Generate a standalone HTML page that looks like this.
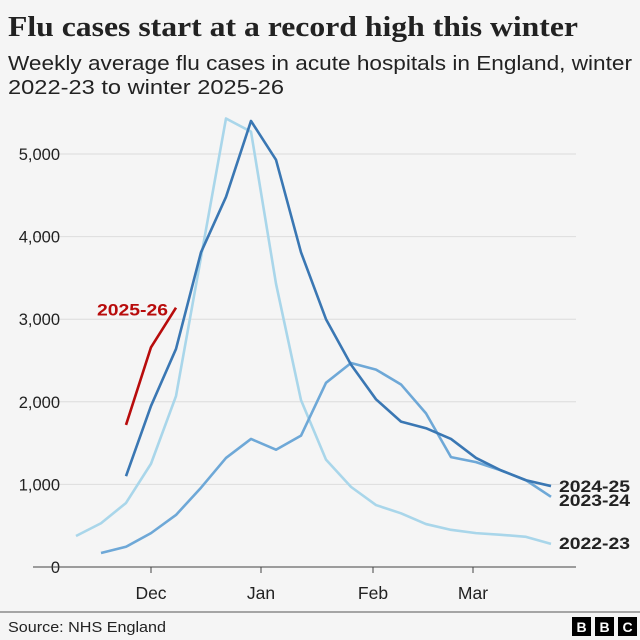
<!DOCTYPE html>
<html><head><meta charset="utf-8"><style>
body{margin:0;background:#f5f5f5;width:640px;height:640px;overflow:hidden;font-family:"Liberation Sans",sans-serif}
</style></head><body>
<svg width="640" height="640" style="position:absolute;left:0;top:0">
<text x="8" y="36" font-family="Liberation Serif,serif" font-weight="bold" font-size="29" fill="#222" textLength="570" lengthAdjust="spacingAndGlyphs">Flu cases start at a record high this winter</text>
<text x="8" y="70" font-size="20" fill="#222" textLength="624" lengthAdjust="spacingAndGlyphs">Weekly average flu cases in acute hospitals in England, winter</text>
<text x="8" y="94" font-size="20" fill="#222" textLength="276" lengthAdjust="spacingAndGlyphs">2022-23 to winter 2025-26</text>
<g id="grid"></g><g id="ticks"></g><g id="lines"></g>
<line x1="0" y1="612" x2="640" y2="612" stroke="#555" stroke-width="1"/>
<text x="8" y="632" font-size="15" fill="#222" textLength="158" lengthAdjust="spacingAndGlyphs">Source: NHS England</text>
<g font-weight="bold" font-size="14" fill="#fff" text-anchor="middle">
<rect x="572" y="617" width="19" height="19" fill="#000"/><text x="581.5" y="632">B</text>
<rect x="595" y="617" width="19" height="19" fill="#000"/><text x="604.5" y="632">B</text>
<rect x="618" y="617" width="19" height="19" fill="#000"/><text x="627.5" y="632">C</text>
</g>
</svg>
<script>
const yTicks=[0,1000,2000,3000,4000,5000];
const monthLabels=["Dec","Jan","Feb","Mar"];
const monthPos=[3,7.4,11.88,15.88];
const s2223=[375,530,775,1250,2070,3750,5430,5270,3430,2020,1300,970,750,650,520,450,410,390,365,280];
const s2324=[null,170,245,410,630,960,1320,1550,1420,1590,2230,2470,2390,2210,1860,1330,1270,1170,1050,850];
const s2425=[null,null,1100,1950,2640,3810,4480,5400,4930,3810,3000,2450,2030,1760,1680,1550,1320,1170,1050,980];
const s2526=[null,null,1720,2660,3140];
const NS="http://www.w3.org/2000/svg";
const X=i=>76+25*i, Y=v=>567-v*0.0826;
function mk(p,t,a){const e=document.createElementNS(NS,t);for(const k in a)e.setAttribute(k,a[k]);document.getElementById(p).appendChild(e);return e;}
yTicks.forEach(v=>{
 if(v>0){const g=mk('grid','line',{x1:33,x2:576,y1:Y(v),y2:Y(v),stroke:'#dcdcdc','stroke-width':1});
 
 }
 const t=mk('grid','text',{x:60,y:Y(v)+6,'text-anchor':'end','font-size':16.5,fill:'#222'});t.textContent=v.toLocaleString('en-US');
 
 
});
const ax=mk('ticks','line',{x1:33,x2:576,y1:567,y2:567,stroke:'#444','stroke-width':1});


monthLabels.forEach((m,i)=>{const x=X(monthPos[i]);
 const l=mk('ticks','line',{x1:x,x2:x,y1:567,y2:573,stroke:'#444'});
 
 
 const t=mk('ticks','text',{x:x,y:599,'text-anchor':'middle','font-size':17.5,fill:'#222'});t.textContent=m;
 
 
});
function series(d,col,name){let p='';d.forEach((v,i)=>{if(v!=null)p+=(p?'L':'M')+X(i)+','+Y(v);});
 const e=mk('lines','path',{d:p,fill:'none',stroke:col,'stroke-width':2.6,'stroke-linejoin':'round'});
 
 }
series(s2223,'#a9d6ea','line-2022-23');
series(s2324,'#6ea8d7','line-2023-24');
series(s2425,'#3a77b3','line-2024-25');
series(s2526,'#b80c0c','line-2025-26');
function lab(txt,x,y,col,anchor,name){const t=mk('lines','text',{x:x,y:y,'font-size':17,'font-weight':'bold',fill:col,'text-anchor':anchor,textLength:71,lengthAdjust:'spacingAndGlyphs'});t.textContent=txt;
 
 }
lab('2024-25',559,Y(s2425[19])+6,'#222','start','label-2024-25');
lab('2023-24',559,Y(s2324[19])+9,'#222','start','label-2023-24');
lab('2022-23',559,Y(s2223[19])+5,'#222','start','label-2022-23');
lab('2025-26',168,Y(s2526[4])+8,'#b80c0c','end','label-2025-26');
</script>
</body></html>
